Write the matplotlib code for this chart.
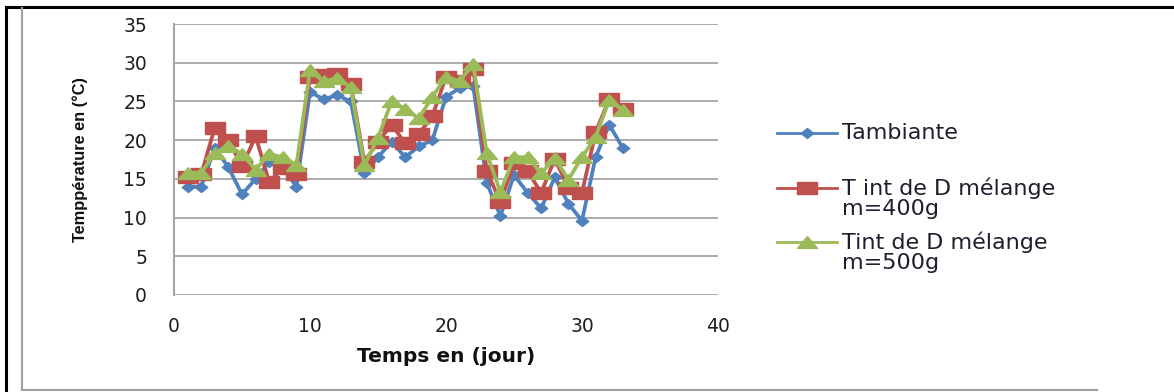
import matplotlib
matplotlib.use("Agg")
import matplotlib.pyplot as plt
from matplotlib.lines import Line2D

# Daily temperatures (°C)
days = list(range(1, 34))
t_ambiante = [14.0, 14.0, 19.0, 16.5, 13.0, 15.0, 17.2, 16.5, 14.0, 26.2,
              25.3, 25.8, 25.0, 15.8, 17.8, 19.8, 17.8, 19.2, 20.0, 25.6,
              26.7, 27.0, 14.5, 10.2, 15.5, 13.2, 11.2, 15.2, 11.8, 9.6,
              17.8, 22.0, 19.0]
t_400g = [15.2, 15.6, 21.6, 20.0, 16.6, 20.5, 14.6, 16.4, 15.6, 28.2,
          28.4, 28.6, 27.2, 17.2, 19.8, 22.0, 19.6, 20.8, 23.1, 28.2,
          27.6, 29.2, 16.0, 12.0, 17.0, 16.0, 13.2, 17.6, 13.8, 13.2,
          21.0, 25.3, 24.0]
t_500g = [15.8, 15.8, 18.3, 19.3, 18.2, 16.2, 18.2, 17.8, 16.8, 29.0,
          27.6, 28.0, 26.8, 16.8, 20.3, 25.0, 24.0, 22.8, 25.6, 28.2,
          27.6, 29.8, 18.3, 13.3, 17.8, 17.8, 15.7, 17.7, 14.9, 17.8,
          20.4, 25.2, 23.9]

series_labels = ["Tambiante", "T int de D mélange\nm=400g", "Tint de D mélange\nm=500g"]
colors = ["#4F81BD", "#C0504D", "#9BBB59"]

x_ticks = [0, 10, 20, 30, 40]
y_ticks = [0, 5, 10, 15, 20, 25, 30, 35]

# Wide (horizontally stretched) marker shapes
diamond = [(0, 1), (1.25, 0), (0, -1), (-1.25, 0), (0, 1)]
rect = [(-1.7, -1), (1.7, -1), (1.7, 1), (-1.7, 1), (-1.7, -1)]
tri = [(0, 1), (1.7, -1), (-1.7, -1), (0, 1)]
markers = [(diamond, 9.0), (rect, 14.5), (tri, 14.5)]

W, H = 1174, 392
PX = 72 / 100  # points per pixel
fig = plt.figure(figsize=(W / 100, H / 100), dpi=100)

ax = fig.add_axes([174 / W, 1 - 295 / H, (718 - 174) / W, (295 - 24) / H])
ax.set_xlim(0, 40)
ax.set_ylim(0, 35)
ax.set_xticks(x_ticks)
ax.set_yticks(y_ticks)
ax.grid(axis="y", color="#A6A6A6", linewidth=1.3)
ax.set_axisbelow(True)
for s in ("top", "right", "bottom"):
    ax.spines[s].set_visible(False)
ax.spines["left"].set_color("#A6A6A6")
ax.spines["left"].set_linewidth(1.5)
ax.tick_params(length=0, labelsize=13.5, labelcolor="#1E1E1E")
ax.tick_params(axis="y", pad=27 * PX)
ax.tick_params(axis="x", pad=22 * PX)

handles = []
for vals, lab, col, (mk, ms) in zip([t_ambiante, t_400g, t_500g], series_labels, colors, markers):
    ax.plot(days, vals, color=col, linewidth=2.7, marker=mk, markersize=ms,
            markerfacecolor=col, markeredgecolor=col, solid_joinstyle="round",
            clip_on=False)
    handles.append(Line2D([], [], color=col, linewidth=2.0, marker=mk, markersize=ms,
                          markerfacecolor=col, markeredgecolor=col))

ax.set_xlabel("Temps en (jour)", fontsize=14.5, fontweight="bold", color="#111111")
ax.xaxis.set_label_coords(0.5, -(347 - 295) / 271)
ax.set_ylabel("Temppérature en (°C)", fontsize=11.8, fontweight="bold",
              family="Liberation Sans", color="#111111")
ax.yaxis.set_label_coords(-(174 - 88) / 544, 0.5)

# Legend entries drawn in figure pixels
leg_y = [133, 188, 242]
for h, lab, yy in zip(handles, series_labels, leg_y):
    yf = 1 - yy / H
    fig.add_artist(Line2D([777 / W, 837 / W], [yf, yf], color=h.get_color(), linewidth=2.0,
                          transform=fig.transFigure))
    fig.add_artist(Line2D([807 / W], [yf], marker=h.get_marker(), markersize=h.get_markersize(),
                          color=h.get_color(), transform=fig.transFigure))
    lines = lab.split("\n")
    for i, line in enumerate(lines):
        fig.text(842 / W, yf - i * 21 / H, line, fontsize=16, color="#1E1E2E",
                 va="center", ha="left")

# Outer frame: black top/left edges and grey chart border
fig.add_artist(Line2D([6 / W, 1], [1 - 6.5 / H, 1 - 6.5 / H], color="black", linewidth=2.2,
                      transform=fig.transFigure))
fig.add_artist(Line2D([6 / W, 6 / W], [0, 1 - 6.5 / H], color="black", linewidth=2.2,
                      transform=fig.transFigure))
fig.add_artist(Line2D([21.5 / W, 21.5 / W], [1 - 390 / H, 1 - 8 / H], color="#A0A0A0", linewidth=1.5,
                      transform=fig.transFigure))
fig.add_artist(Line2D([21.5 / W, 1097 / W], [1 - 390 / H, 1 - 390 / H], color="#A0A0A0", linewidth=1.5,
                      transform=fig.transFigure))

fig.savefig("out.png", dpi=100)
